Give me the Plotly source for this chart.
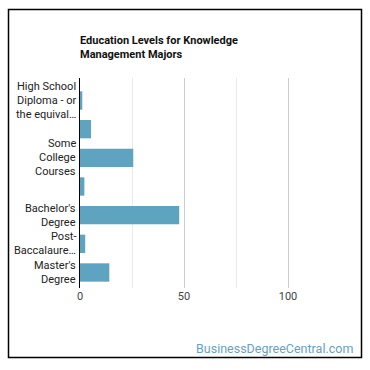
import plotly.graph_objects as go

categories = [
    "High School Diploma - or the equivalent (for example, GED)",
    "Post-Secondary Certificate",
    "Some College Courses",
    "Associate's Degree (or other 2-year degree)",
    "Bachelor's Degree",
    "Post-Baccalaureate Certificate",
    "Master's Degree",
]
tick_labels = [
    ["High School", "Diploma - or", "the equival…"],
    [],
    ["Some", "College", "Courses"],
    [],
    ["Bachelor's", "Degree"],
    ["Post-", "Baccalaure…"],
    ["Master's", "Degree"],
]
values = [1.1, 5.3, 25.6, 2.1, 47.7, 2.5, 14.1]
title_text = "<b>Education Levels for Knowledge<br>Management Majors</b>"
watermark = "BusinessDegreeCentral.com"

W, H = 370, 370
L, R, T, B = 80, 340, 78, 288
LINE = 14

fig = go.Figure(go.Bar(
    x=values, y=categories, orientation="h",
    marker=dict(color="#5ea3bf", line=dict(width=0)),
    width=0.64,
))

def px_x(p):
    return (p - L) / (R - L)

def px_y(p):
    return (B - p) / (B - T)

annotations = [
    dict(
        text=watermark, xref="paper", yref="paper",
        x=px_x(355), y=px_y(348), xanchor="right", yanchor="middle",
        showarrow=False, font=dict(family="Roboto", size=12.5, color="#6a9fc0"),
    ),
    dict(
        text=title_text, xref="paper", yref="paper",
        x=px_x(78), y=px_y(32), xanchor="left", yanchor="top", align="left",
        showarrow=False, font=dict(family="Roboto", size=11, color="#111"),
    ),
]
for cat, lines in zip(categories, tick_labels):
    n = len(lines)
    for i, line in enumerate(lines):
        annotations.append(dict(
            text=line, xref="paper", yref="y", x=px_x(78), y=cat,
            xanchor="right", yanchor="middle", showarrow=False,
            yshift=-(i - (n - 1) / 2) * LINE,
            font=dict(family="Roboto", size=11, color="#222"),
        ))

fig.update_layout(
    width=W, height=H,
    margin=dict(l=L, r=W - R, t=T, b=H - B),
    paper_bgcolor="white", plot_bgcolor="white",
    font=dict(family="Roboto", size=11, color="#333"),
    showlegend=False,
    xaxis=dict(
        range=[0, 125], tickvals=[0, 50, 100], ticktext=["0", "50", "100"],
        showgrid=True, gridcolor="#cccccc", gridwidth=1, zeroline=False,
        showline=False, ticks="", tickfont=dict(size=11, color="#444"),
        minor=dict(tickvals=[25, 75], showgrid=True, gridcolor="#ebebeb", gridwidth=1),
        fixedrange=True,
    ),
    yaxis=dict(
        categoryorder="array", categoryarray=categories,
        autorange="reversed",
        showline=True, linecolor="black", linewidth=1,
        showgrid=False, ticks="", showticklabels=False,
    ),
    annotations=annotations,
    shapes=[dict(
        type="rect", xref="paper", yref="paper",
        x0=px_x(8.5), x1=px_x(361.5), y0=px_y(357.5), y1=px_y(9.5),
        line=dict(color="black", width=1.5), fillcolor="rgba(0,0,0,0)", layer="above",
    )],
)

fig.write_html("out.html")
